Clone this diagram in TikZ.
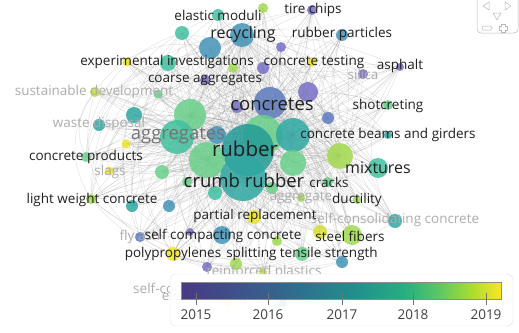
\documentclass[tikz,border=0pt]{standalone}
\usepackage{fontspec}
\setmainfont{Open Sans}
\definecolor{cPurple}{RGB}{118,112,196}
\definecolor{cBlue}{RGB}{92,122,190}
\definecolor{cSteel}{RGB}{68,148,184}
\definecolor{cTeal}{RGB}{48,168,162}
\definecolor{cTealD}{RGB}{36,156,152}
\definecolor{cTealG}{RGB}{66,192,158}
\definecolor{cGreen}{RGB}{106,208,138}
\definecolor{cLime}{RGB}{162,218,80}
\definecolor{cLimeY}{RGB}{192,224,58}
\definecolor{cYellow}{RGB}{236,228,40}
\definecolor{cYellowL}{RGB}{214,224,56}
\pgfdeclarehorizontalshading{viridis}{100bp}{color(0bp)=(rgb,255:red,72;green,58;blue,132);
  color(25bp)=(rgb,255:red,72;green,58;blue,132); color(35bp)=(rgb,255:red,62;green,84;blue,140);
  color(43.5bp)=(rgb,255:red,45;green,112;blue,142); color(52.5bp)=(rgb,255:red,33;green,145;blue,140);
  color(60bp)=(rgb,255:red,40;green,174;blue,128); color(65.5bp)=(rgb,255:red,94;green,201;blue,98);
  color(70.5bp)=(rgb,255:red,172;green,220;blue,48); color(75bp)=(rgb,255:red,250;green,230;blue,34);
  color(100bp)=(rgb,255:red,250;green,230;blue,34)}
\tikzset{
  bub/.style={circle, inner sep=0pt, minimum size=#1, fill opacity=0.85},
  edge/.style={draw=black!45, draw opacity=0.3, line width=0.35pt},
  lab/.style={font=\fontsize{13.5}{15}\selectfont, text=black!88, inner sep=0pt},
  midlab/.style={lab, font=\fontsize{16}{18}\selectfont},
  biglab/.style={lab, font=\fontsize{18.5}{20}\selectfont},
  hugelab/.style={lab, font=\fontsize{20.5}{22}\selectfont},
  faint/.style={lab, text=black!32},
  navglyph/.style={draw=black!28, line width=0.5pt},
  yearlab/.style={font=\fontsize{13.5}{15}\selectfont, text=black!75, inner sep=0pt}
}
\begin{document}
\begin{tikzpicture}[x=1pt, y=-1pt]
  \useasboundingbox (0,0) rectangle (519,332);
  \fill[white] (0,0) rectangle (519,332);

  % bubble centres (placed first so that the links can refer to them)
  \foreach \n/\x/\y in {elastic/218/15, emtop/263/8, tire/312/10, recA/182/33,
      recB/210/48, recyc/242/35, pu1/281/47, rpart/342/35, expy/127/62,
      exp/168/63, li1/233/68, pu2/263/68, ctest/312/62, asph/400/67,
      silica/363/74, coarse/205/80, sust/95/92, gr1/158/94, te1/134/115,
      waste/99/125, gbig1/190/115, aggr/177/137, teb/217/135, concretes/270/103,
      pu3/237/107, pu4/308/92, shot/388/105, bl1/328/118, gbig2/263/135,
      tbig/293/135, rubber/248/150, beams/388/135, limebig/340/156, gr3/293/163,
      mix/378/168, ye2/126/144, prod/86/157, gbig3/207/160, slags/109/171,
      gr4/162/172, crumb/243/178, gr5/187/182, te5/215/193, cracks/328/182,
      gr6/272/188, aggt/301/198, duct/357/200, lwc/91/199, te6/132/206,
      te7/169/206, partial/254/217, pu5/190/232, scc/222/235, fly/140/237,
      ye3/320/232, li4/277/241, steel/352/235, selfcons/395/221, poly/173/254,
      split/302/254, bt/342/262, pu6/207/267, li5/236/264, reinf/263/272,
      elev/228/302, elev2/283/303}
    \coordinate (\n) at (\x,\y);

  % links
  \foreach \h/\b in {rubber/15, crumb/-15, concretes/18, aggr/-18, recyc/12, gbig2/-10,
      gbig1/20, gbig3/-20, tbig/14, limebig/-12} {
    \foreach \l in {elastic, emtop, tire, recA, recB, pu1, rpart, expy, exp, li1, pu2, ctest,
        asph, silica, coarse, sust, gr1, te1, waste, teb, pu3, pu4, shot, bl1,
        beams, gr3, mix, ye2, prod, slags, gr4, gr5, te5, cracks, gr6, aggt,
        duct, lwc, te6, te7, partial, pu5, scc, fly, ye3, li4, steel, selfcons, poly, split,
        bt, pu6, li5, reinf}
      \draw[edge] (\h) to[bend left=\b] (\l);
  }
  \foreach \a/\b in {rubber/crumb, rubber/concretes, rubber/aggr, rubber/recyc, crumb/concretes,
      crumb/aggr, crumb/recyc, concretes/aggr, concretes/recyc, aggr/recyc, gbig2/rubber}
    \draw[edge] (\a) to[bend left=10] (\b);
  \foreach \a/\b in {lwc/elastic, prod/recA, lwc/recB, prod/exp, te6/recyc, fly/elastic,
      lwc/coarse, poly/recA, sust/recB, waste/exp, slags/te1, te6/emtop, lwc/sust, prod/sust,
      fly/recA, poly/exp, lwc/tire, prod/recyc, te6/exp, fly/sust}
    \draw[edge] (\a) to[bend left=35] (\b);
  \foreach \a/\b in {tire/shot, rpart/selfcons, asph/steel, rpart/mix, tire/asph, silica/selfcons,
      emtop/beams, rpart/duct, asph/selfcons, tire/mix, shot/split, ctest/steel, elastic/asph,
      tire/selfcons, emtop/mix, rpart/steel, pu1/selfcons, tire/beams}
    \draw[edge] (\a) to[bend right=35] (\b);
  \foreach \a/\b in {poly/split, pu6/steel, lwc/scc, fly/split, te6/bt, poly/selfcons, lwc/li5,
      fly/bt, poly/steel, lwc/split}
    \draw[edge] (\a) to[bend right=25] (\b);

  % bubbles
  \foreach \n/\d/\c in {elastic/12/cTealG, emtop/10/cLime, tire/10/cPurple, recA/14/cTealG,
      recB/22/cSteel, recyc/24/cSteel, pu1/10/cPurple, rpart/12/cSteel, expy/9/cYellow,
      exp/16/cTealG, li1/10/cLime, pu2/12/cPurple, ctest/9/cYellow, asph/8/cPurple,
      silica/10/cPurple, coarse/10/cPurple, sust/10/cLimeY, gr1/9/cGreen, te1/16/cTeal,
      waste/12/cTeal, gbig1/32/cGreen, aggr/34/cTealG, teb/18/cSteel, concretes/32/cBlue,
      pu4/20/cPurple, shot/10/cGreen, bl1/12/cBlue, gbig2/40/cGreen, tbig/34/cTeal,
      rubber/52/cTealD, pu3/12/cPurple, beams/8/cTeal, limebig/26/cLime, gr3/26/cGreen,
      mix/20/cTealG, ye2/9/cYellow, prod/10/cGreen, gbig3/36/cGreen, slags/9/cYellow,
      gr4/14/cGreen, crumb/46/cTeal, gr5/10/cGreen, te5/14/cTealG, cracks/10/cGreen,
      gr6/12/cGreen, aggt/8/cLime, duct/8/cLime, lwc/10/cLime, te6/12/cTeal, te7/12/cSteel,
      partial/14/cYellow, pu5/8/cPurple, scc/18/cSteel, fly/10/cBlue, ye3/14/cYellowL,
      li4/10/cLime, steel/20/cLime, selfcons/14/cTeal, poly/14/cYellow, split/14/cGreen,
      bt/12/cSteel, pu6/10/cPurple, li5/12/cLime, reinf/8/cLimeY, elev/8/cYellow,
      elev2/8/cTeal}
    \node[bub=\d pt, fill=\c] (b-\n) at (\n) {};

  % labels
  \node[faint] (l-silica) at (363,74) {silica};
  \node[faint] (l-sust) at (94,92) {sustainable development};
  \node[faint] (l-waste) at (99,124) {waste disposal};
  \node[faint] (l-slags) at (110,172) {slags};
  \node[faint] (l-aggt) at (301,198) {aggregate};
  \node[faint] (l-selfcons) at (395,220) {self-consolidating concrete};
  \node[faint] (l-fly) at (140,237) {fly ash};
  \node[faint] (l-reinf) at (264,272) {reinforced plastics};
  \node[faint] (l-selfcomp) at (212,290) {self-compacting concrete};
  \node[faint] (l-elev) at (230,297) {elevated temperature};
  \node[lab] (l-elastic) at (218,15) {elastic moduli};
  \node[lab] (l-tire) at (313,10) {tire chips};
  \node[midlab] (l-recyc) at (243,34) {recycling};
  \node[lab] (l-rpart) at (342,34) {rubber particles};
  \node[lab] (l-exp) at (167,62) {experimental investigations};
  \node[lab] (l-ctest) at (314,62) {concrete testing};
  \node[lab] (l-asph) at (400,66) {asphalt};
  \node[lab] (l-coarse) at (205,80) {coarse aggregates};
  \node[biglab] (l-concretes) at (272,104) {concretes};
  \node[lab] (l-shot) at (388,106) {shotcreting};
  \node[biglab, text=black!55] (l-aggr) at (178,136) {aggregates};
  \node[hugelab] (l-rubber) at (245,149) {rubber};
  \node[lab] (l-beams) at (388,135) {concrete beams and girders};
  \node[lab] (l-prod) at (86,157) {concrete products};
  \node[midlab] (l-mix) at (378,168) {mixtures};
  \node[biglab] (l-crumb) at (244,181) {crumb rubber};
  \node[lab] (l-cracks) at (329,182) {cracks};
  \node[lab] (l-lwc) at (92,200) {light weight concrete};
  \node[lab] (l-duct) at (357,200) {ductility};
  \node[lab] (l-partial) at (255,216) {partial replacement};
  \node[lab] (l-scc) at (223,236) {self compacting concrete};
  \node[lab] (l-steel) at (350,236) {steel fibers};
  \node[lab] (l-poly) at (173,254) {polypropylenes};
  \node[lab] (l-split) at (302,254) {splitting tensile strength};

  % colour legend
  \draw[rounded corners=6pt, draw=black!12, fill=white, fill opacity=0.9] (170,274) rectangle (513,326);
  \shade[shading=viridis] (181,282) rectangle (501,299);
  \draw[black!45, line width=0.9pt] (181,282) rectangle (501,299);
  \foreach \yr/\x in {2015/196, 2016/268, 2017/342, 2018/413, 2019/486} {
    \draw[black!55, line width=0.6pt] (\x,293) -- (\x,305);
    \node[yearlab] (yr\yr) at (\x,315) {\yr};
  }

  % navigation
  \draw[navglyph, rounded corners=4pt] (477,-5) rectangle (518,33);
  \draw[navglyph] (489,2) -- (483,6) -- (489,10) -- cycle;
  \draw[navglyph] (505,2) -- (511,6) -- (505,10) -- cycle;
  \draw[navglyph] (493,13) -- (501,13) -- (497,20) -- cycle;
  \draw[navglyph, rounded corners=1.5pt] (482,26) rectangle (492,30);
  \draw[navglyph] (501,24) -- (505,24) -- (505,26) -- (507,26) -- (507,30) -- (505,30) -- (505,32)
    -- (501,32) -- (501,30) -- (499,30) -- (499,26) -- (501,26) -- cycle;
\end{tikzpicture}
\end{document}
